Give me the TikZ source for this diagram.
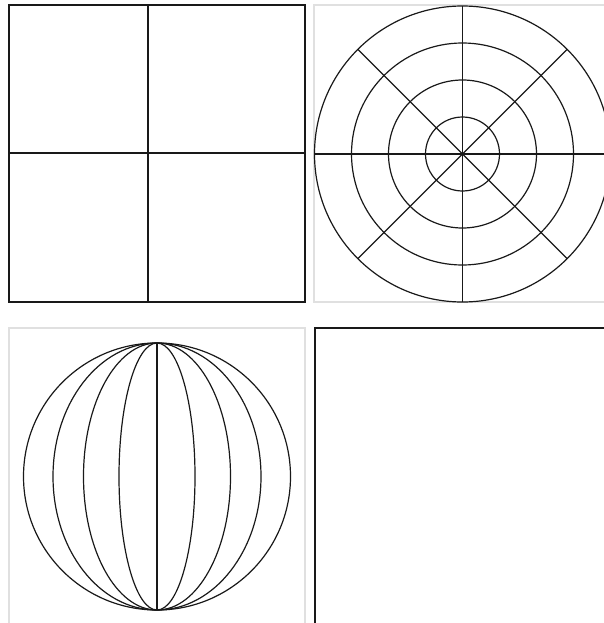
\documentclass[tikz,border=0pt]{standalone}
\begin{document}
\begin{tikzpicture}[x=1pt,y=-1pt,
  ink/.style={line width=1.2pt,black!90},
  pale/.style={line width=1.1pt,black!12}]
\useasboundingbox (0,0) rectangle (604,623);
\clip (0,0) rectangle (604,623);
% top-left panel
\draw[ink] (9,5) rectangle (305,302);
\draw[ink] (148,5) -- (148,302);
\draw[ink] (9,153) -- (305,153);
% top-right panel
\draw[pale] (314,5) rectangle (612,302);
\begin{scope}[shift={(462.5,154)}]
  \foreach \r in {37,74,111,148} \draw[ink] (0,0) circle[radius=\r];
  \foreach \a in {0,45,...,315} \draw[ink] (0,0) -- (\a:148);
\end{scope}
% bottom-left panel
\draw[pale] (9,328) rectangle (305,626);
\begin{scope}[shift={(157,476.5)}]
  \draw[ink] (0,0) circle[radius=133.5];
  \foreach \rx in {104,73.5,38} \draw[ink] (0,0) ellipse[x radius=\rx,y radius=133.5];
  \draw[ink] (0,-133.5) -- (0,133.5);
\end{scope}
% bottom-right panel
\draw[ink] (315,328) rectangle (612,626);
\end{tikzpicture}
\end{document}
